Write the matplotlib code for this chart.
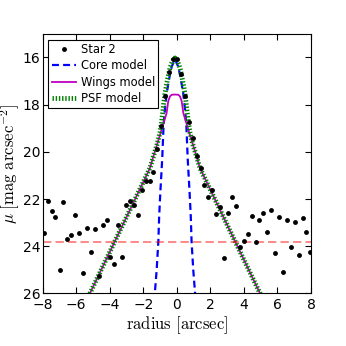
import matplotlib
matplotlib.use('Agg')
import matplotlib.pyplot as plt

plt.rcParams['mathtext.fontset'] = 'cm'
plt.rcParams['lines.scale_dashes'] = False
plt.rcParams['xtick.direction'] = 'in'
plt.rcParams['ytick.direction'] = 'in'
plt.rcParams['xtick.top'] = True
plt.rcParams['ytick.right'] = True

# Star 2 profile (radius in arcsec, surface brightness in mag/arcsec^2)
star_r = [-7.92, -7.70, -7.46, -7.23, -6.99, -6.77, -6.53, -6.29, -6.06, -5.82,
          -5.60, -5.36, -5.12, -4.88, -4.66, -4.42, -4.18, -3.96, -3.73, -3.49,
          -3.25, -3.03, -2.79, -2.56, -2.32, -2.09, -1.86, -1.62, -1.39, -1.16,
          -0.92, -0.70, -0.47, -0.23, 0.01, 0.25, 0.49, 0.71, 0.95, 1.18,
          1.42, 1.64, 1.88, 2.11, 2.34, 2.57, 2.83, 3.05, 3.27, 3.51,
          3.75, 3.99, 4.22, 4.46, 4.70, 4.92, 5.15, 5.39, 5.63, 5.85,
          6.09, 6.33, 6.55, 6.79, 7.03, 7.27, 7.50, 7.72, 7.96]
star_mu = [23.43, 22.08, 22.52, 22.76, 25.02, 22.13, 23.70, 23.54, 22.66, 23.43,
           25.13, 23.22, 24.25, 23.26, 25.25, 23.11, 22.89, 24.46, 24.76, 23.10,
           24.46, 22.24, 22.07, 22.27, 22.68, 21.62, 21.22, 21.22, 20.87, 19.89,
           18.90, 17.65, 16.61, 16.08, 16.06, 16.72, 17.65, 18.72, 19.41, 20.16,
           20.70, 21.39, 21.91, 21.60, 22.62, 22.35, 24.51, 22.59, 21.91, 22.30,
           24.02, 23.77, 23.50, 22.71, 23.82, 22.88, 22.58, 23.41, 22.46, 24.30,
           22.76, 25.08, 22.90, 24.03, 22.99, 24.36, 22.82, 23.38, 24.24]

# core model
core_r = [-1.40, -1.31, -1.20, -1.10, -1.05, -0.98, -0.87, -0.79, -0.71, -0.60,
          -0.43, -0.31, -0.11, 0.09, 0.21, 0.38, 0.49, 0.57, 0.65, 0.76,
          0.83, 0.88, 0.98, 1.09, 1.18]
core_mu = [26.8, 26.0, 25.0, 23.8, 22.7, 21.7, 20.3, 18.9, 18.2, 17.5,
           16.8, 16.4, 16.07, 16.4, 16.8, 17.5, 18.2, 18.9, 20.3, 21.7,
           22.7, 23.8, 25.0, 26.0, 26.8]

# wings model
wings_r = [-5.51, -5.18, -1.60, -1.40, -1.16, -0.84, -0.61, -0.51, -0.41, -0.31,
           -0.11, 0.09, 0.19, 0.29, 0.39, 0.62, 0.94, 1.18, 1.38, 4.96, 5.29]
wings_mu = [26.5, 26.0, 20.69, 20.2, 19.65, 18.9, 18.36, 17.85, 17.65, 17.58,
            17.57, 17.58, 17.65, 17.85, 18.36, 18.9, 19.65, 20.2, 20.69, 26.0, 26.5]

# total PSF model
psf_r = [-5.51, -5.18, -1.60, -1.40, -1.16, -1.01, -0.91, -0.81, -0.71, -0.56,
         -0.41, -0.26, -0.11, 0.04, 0.19, 0.34, 0.49, 0.59, 0.69, 0.79,
         0.94, 1.18, 1.38, 4.96, 5.29]
psf_mu = [26.5, 26.0, 20.69, 20.2, 19.65, 19.2, 18.75, 18.15, 17.55, 16.95,
          16.45, 16.15, 16.02, 16.15, 16.45, 16.95, 17.55, 18.15, 18.75, 19.2,
          19.65, 20.2, 20.69, 26.0, 26.5]

sky_mu = 23.82

fig = plt.figure(figsize=(3.46, 3.46), dpi=100)
ax = fig.add_axes([0.123, 0.152, 0.776, 0.75])

ax.plot(star_r, star_mu, 'o', color='k', markersize=3.5, markeredgewidth=0, label='Star 2', zorder=5)
ax.plot(core_r, core_mu, color='b', lw=1.6, dashes=(5, 3), label='Core model')
ax.plot(wings_r, wings_mu, color='m', lw=1.3, label='Wings model')
ax.plot(psf_r, psf_mu, color='g', lw=3.5, dashes=(1, 1.3), label='PSF model')
ax.axhline(sky_mu, color='r', alpha=0.5, lw=1.3, dashes=(6, 3))

ax.set_xlim(-8, 8)
ax.set_ylim(26, 15)
ax.set_xticks(range(-8, 9, 2))
ax.set_yticks(range(16, 27, 2))
ax.tick_params(labelsize=10, length=4, width=0.8)
ax.tick_params(axis='x', pad=3)
ax.tick_params(axis='y', pad=1.5)

ax.set_xlabel(r'$\mathrm{radius\ [arcsec]}$', fontsize=12, labelpad=2)
ax.set_ylabel(r'$\mu\ [\mathrm{mag\ arcsec^{-2}}]$', fontsize=12, labelpad=0.5)

leg = ax.legend(loc='upper left', fontsize=8.3, numpoints=1, fancybox=False,
                framealpha=1, edgecolor='k', borderaxespad=0.5, borderpad=0.3,
                handlelength=2.1, handletextpad=0.4, labelspacing=0.28)
leg.get_frame().set_linewidth(0.8)

fig.savefig('out.png', dpi=100)
